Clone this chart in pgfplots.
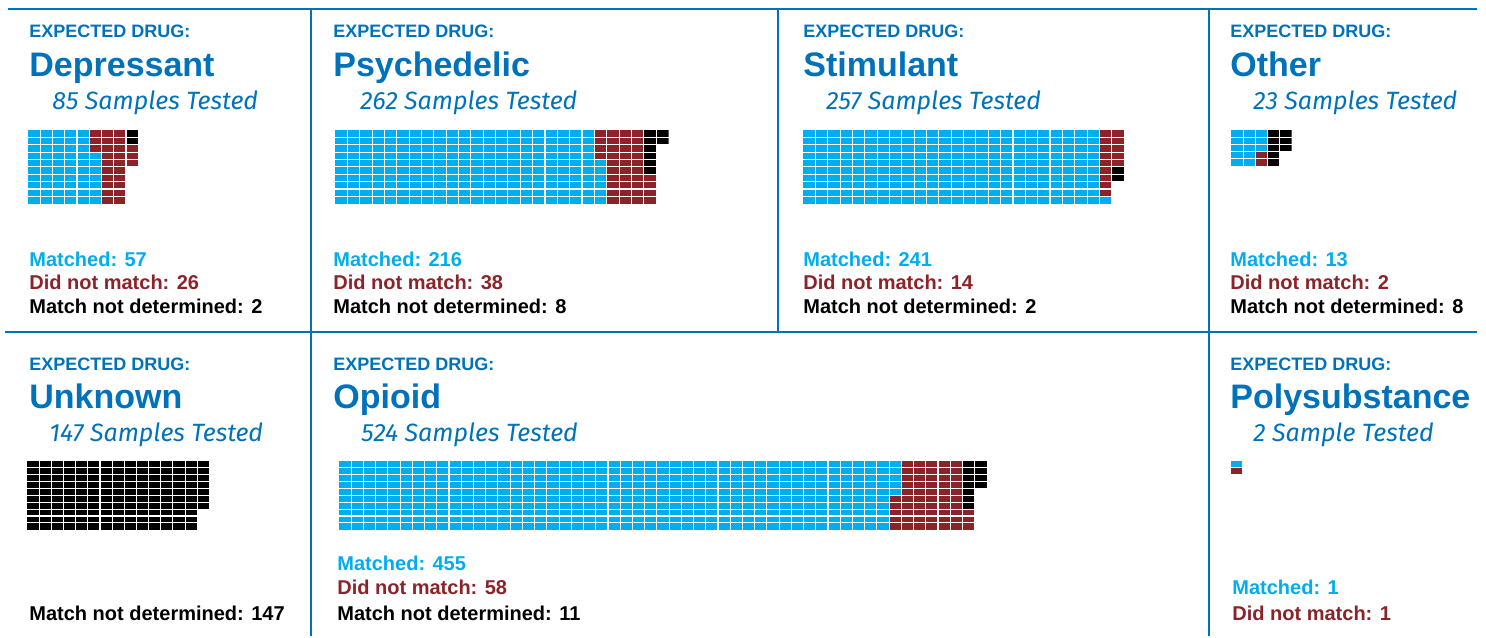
\documentclass[border=0pt]{standalone}
\usepackage{fontspec}
\setmainfont{Liberation Sans}
\newfontfamily\itfont{Fira Sans}
\usepackage{pgfplots}
\pgfplotsset{compat=1.18}
\definecolor{cborder}{RGB}{0,114,188}
\definecolor{cmatch}{RGB}{0,173,239}
\definecolor{cnomatch}{RGB}{139,35,40}
\definecolor{cnd}{RGB}{0,0,0}
\pgfplotsset{
  waffle/.style={scale only axis, y dir=reverse, xmin=0, ymin=0,
    anchor=north west, axis on top, enlargelimits=false,
    axis line style={draw=none}, tick style={draw=none},
    xticklabels={}, yticklabels={},
    grid=major, major grid style={white, line width=0.55pt}},
}
% one block of cells: colour, first col, last col, first row, last row (cell edges)
\newcommand{\blk}[5]{\addplot[fill=#1, draw=none] coordinates {(#2,#4) (#3,#4) (#3,#5) (#2,#5)} -- cycle;}
\newcommand{\hdr}{\bfseries\fontsize{9}{10}\selectfont\color{cborder}}
\newcommand{\ttl}{\bfseries\fontsize{17}{19}\selectfont\color{cborder}}
\newcommand{\sub}{\itfont\itshape\fontsize{12.5}{14}\selectfont\color{cborder}}
\newcommand{\cnt}{\bfseries\fontsize{10}{12}\selectfont}
\newcommand{\tx}[3]{\node[anchor=base west, inner sep=0pt, font=#1] at (axis cs:#2) {#3};}
\begin{document}
\begin{tikzpicture}
\path (0,0) rectangle (743pt,318pt);
\begin{axis}[at={(0,0)}, anchor=south west, scale only axis, width=743pt, height=318pt,
  xmin=0, xmax=1486, ymin=0, ymax=636, y dir=reverse, hide axis, clip=false]
% borders
\draw[cborder, line width=1pt] (axis cs:8,9) -- (axis cs:1477,9);
\draw[cborder, line width=1pt] (axis cs:5,332) -- (axis cs:1477,332);
\draw[cborder, line width=1pt] (axis cs:311,9) -- (axis cs:311,636);
\draw[cborder, line width=1pt] (axis cs:778,9) -- (axis cs:778,332);
\draw[cborder, line width=1pt] (axis cs:1209,9) -- (axis cs:1209,636);
% top row texts
\tx{\hdr}{29,37}{EXPECTED DRUG:}
\tx{\hdr}{333,37}{EXPECTED DRUG:}
\tx{\hdr}{803,37}{EXPECTED DRUG:}
\tx{\hdr}{1230,37}{EXPECTED DRUG:}
\tx{\ttl}{29,76}{Depressant}
\tx{\ttl}{333,76}{Psychedelic}
\tx{\ttl}{803,76}{Stimulant}
\tx{\ttl}{1230,76}{Other}
\tx{\sub}{52,109}{85 Samples Tested}
\tx{\sub}{360,109}{262 Samples Tested}
\tx{\sub}{826,109}{257 Samples Tested}
\tx{\sub}{1253,109}{23 Samples Tested}
\tx{\cnt\color{cmatch}}{29,266}{Matched: 57}
\tx{\cnt\color{cnomatch}}{29,289}{Did not match: 26}
\tx{\cnt\color{cnd}}{29,313}{Match not determined: 2}
\tx{\cnt\color{cmatch}}{333,266}{Matched: 216}
\tx{\cnt\color{cnomatch}}{333,289}{Did not match: 38}
\tx{\cnt\color{cnd}}{333,313}{Match not determined: 8}
\tx{\cnt\color{cmatch}}{803,266}{Matched: 241}
\tx{\cnt\color{cnomatch}}{803,289}{Did not match: 14}
\tx{\cnt\color{cnd}}{803,313}{Match not determined: 2}
\tx{\cnt\color{cmatch}}{1230,266}{Matched: 13}
\tx{\cnt\color{cnomatch}}{1230,289}{Did not match: 2}
\tx{\cnt\color{cnd}}{1230,313}{Match not determined: 8}
% bottom row texts
\tx{\hdr}{29,370}{EXPECTED DRUG:}
\tx{\hdr}{333,370}{EXPECTED DRUG:}
\tx{\hdr}{1230,370}{EXPECTED DRUG:}
\tx{\ttl}{29,408}{Unknown}
\tx{\ttl}{333,408}{Opioid}
\tx{\ttl}{1230,408}{Polysubstance}
\tx{\sub}{49,441}{147 Samples Tested}
\tx{\sub}{361,441}{524 Samples Tested}
\tx{\sub}{1253,441}{2 Sample Tested}
\tx{\cnt\color{cnd}}{29,620}{Match not determined: 147}
\tx{\cnt\color{cmatch}}{337,570}{Matched: 455}
\tx{\cnt\color{cnomatch}}{337,594}{Did not match: 58}
\tx{\cnt\color{cnd}}{337,620}{Match not determined: 11}
\tx{\cnt\color{cmatch}}{1232,594}{Matched: 1}
\tx{\cnt\color{cnomatch}}{1232,620}{Did not match: 1}
\end{axis}
% Depressant: 57 / 26 / 2
\begin{axis}[waffle, at={(14pt,253pt)}, width=55.15pt, height=36.85pt, xmax=9, ymax=10,
  xtick={1,...,8}, ytick={1,...,9}]
\blk{cmatch}{0}{5}{0}{10}
\blk{cmatch}{5}{6}{3}{10}
\blk{cnomatch}{5}{6}{0}{3}
\blk{cnomatch}{6}{8}{0}{10}
\blk{cnomatch}{8}{9}{2}{5}
\blk{cnd}{8}{9}{0}{2}
\end{axis}
% Psychedelic: 216 / 38 / 8
\begin{axis}[waffle, at={(167.5pt,253pt)}, width=166.75pt, height=36.85pt, xmax=27, ymax=10,
  xtick={1,...,26}, ytick={1,...,9}]
\blk{cmatch}{0}{21}{0}{10}
\blk{cmatch}{21}{22}{4}{10}
\blk{cnomatch}{21}{22}{0}{4}
\blk{cnomatch}{22}{25}{0}{10}
\blk{cnomatch}{25}{26}{6}{10}
\blk{cnd}{25}{26}{0}{6}
\blk{cnd}{26}{27}{0}{2}
\end{axis}
% Stimulant: 241 / 14 / 2
\begin{axis}[waffle, at={(401.5pt,253pt)}, width=160.55pt, height=36.85pt, xmax=26, ymax=10,
  xtick={1,...,25}, ytick={1,...,9}]
\blk{cmatch}{0}{24}{0}{10}
\blk{cmatch}{24}{25}{9}{10}
\blk{cnomatch}{24}{25}{0}{9}
\blk{cnomatch}{25}{26}{0}{5}
\blk{cnd}{25}{26}{5}{7}
\end{axis}
% Other: 13 / 2 / 8
\begin{axis}[waffle, at={(615.5pt,253pt)}, width=30.35pt, height=18.1pt, xmax=5, ymax=5,
  xtick={1,...,4}, ytick={1,...,4}]
\blk{cmatch}{0}{2}{0}{5}
\blk{cmatch}{2}{3}{0}{3}
\blk{cnomatch}{2}{3}{3}{5}
\blk{cnd}{3}{4}{0}{5}
\blk{cnd}{4}{5}{0}{3}
\end{axis}
% Unknown: 0 / 0 / 147
\begin{axis}[waffle, at={(13.5pt,87.5pt)}, width=91.2pt, height=34.35pt, xmax=15, ymax=10,
  xtick={1,...,14}, ytick={1,...,9}]
\blk{cnd}{0}{14}{0}{10}
\blk{cnd}{14}{15}{0}{7}
\end{axis}
% Opioid: 455 / 58 / 11
\begin{axis}[waffle, at={(169.5pt,87.5pt)}, width=323.97pt, height=34.35pt, xmax=53, ymax=10,
  xtick={1,...,52}, ytick={1,...,9}]
\blk{cmatch}{0}{45}{0}{10}
\blk{cmatch}{45}{46}{0}{5}
\blk{cnomatch}{45}{46}{5}{10}
\blk{cnomatch}{46}{51}{0}{10}
\blk{cnomatch}{51}{52}{7}{10}
\blk{cnd}{51}{52}{0}{7}
\blk{cnd}{52}{53}{0}{4}
\end{axis}
% Polysubstance: 1 / 1 / 0
\begin{axis}[waffle, at={(615.5pt,87.5pt)}, width=5.5pt, height=6.35pt, xmax=1, ymax=2,
  xtick=\empty, ytick={1}]
\blk{cmatch}{0}{1}{0}{1}
\blk{cnomatch}{0}{1}{1}{2}
\end{axis}
\end{tikzpicture}
\end{document}
